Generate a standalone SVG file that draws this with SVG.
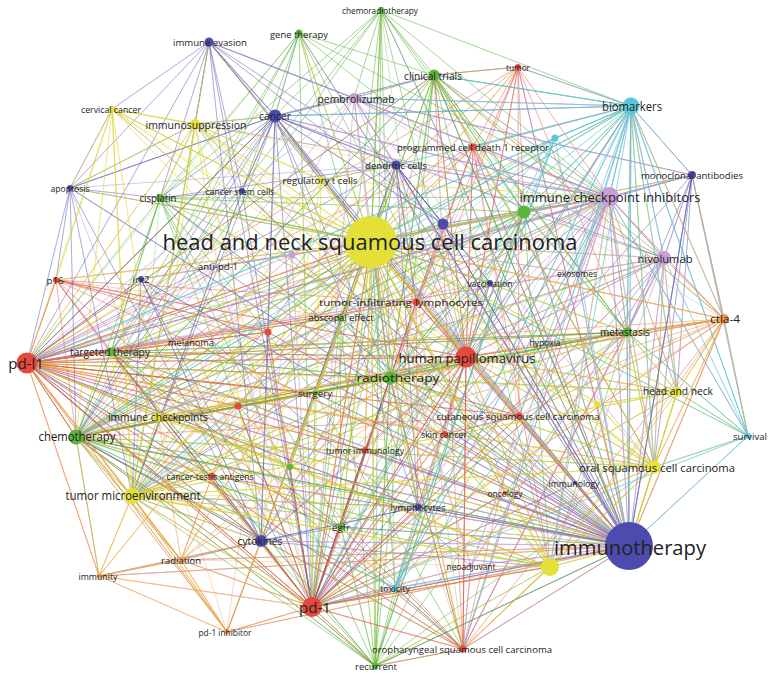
<svg xmlns="http://www.w3.org/2000/svg" width="768" height="674" viewBox="0 0 768 674">
<style>
.c path{fill:none;stroke-linecap:round;stroke-linejoin:round;stroke-width:1}
.gr{stroke:#5bb53b;stroke-opacity:.3}
.rd{stroke:#e8553f;stroke-opacity:.26}
.pu{stroke:#8a6ccb;stroke-opacity:.24}
.bl{stroke:#5a56b8;stroke-opacity:.28}
.ye{stroke:#dcd62c;stroke-opacity:.34}
.li{stroke:#c49ad8;stroke-opacity:.36}
.cy{stroke:#5cc3d3;stroke-opacity:.38}
.or{stroke:#f2a050;stroke-opacity:.36}
.c path.t{stroke-opacity:.5}
.l{font-family:"Open Sans","Liberation Sans",sans-serif;fill:#222;text-anchor:middle;dominant-baseline:central}
.nr{fill:#e5483c}.ng{fill:#5bb53b}.nb{fill:#4b4cad}.ny{fill:#e3e03a}.nl{fill:#c79ed8}.nc{fill:#5dc6d6}.no{fill:#f09a48}
</style>
<rect width="768" height="674" fill="#ffffff"/>
<g id="connectors" class="c">
<path class="gr" d="M381 10L371 242 381 10 629 546 381 10 466 357 381 10 609 197 381 10 434 75 381 10 524 212 381 10 390 378 381 10 76 437 381 10 312 607 381 10 27 363 381 10 111 352 381 10 160 198 381 10 631 106 381 10 354 98 381 10 627 332 381 10 375 666 381 10 463 649"/>
<path class="gr" d="M299 33L371 242 299 33 629 546 299 33 275 116 299 33 160 198 299 33 609 197 299 33 390 378 299 33 76 437 299 33 111 352 299 33 524 212 299 33 434 75 299 33 312 607 299 33 466 357 299 33 132 496 299 33 27 363"/>
<path class="gr" d="M434 75L371 242 434 75 629 546 434 75 609 197 434 75 631 106 434 75 312 607 434 75 27 363 434 75 390 378 434 75 76 437 434 75 664 258 434 75 354 98 434 75 627 332 434 75 524 212 434 75 466 357 434 75 518 67 434 75 654 467 434 75 375 666 434 75 550 567 434 75 724 319 434 75 132 496 434 75 275 116"/>
<path class="gr" d="M160 198L371 242 160 198 629 546 160 198 390 378 160 198 76 437 160 198 111 352 160 198 312 607 160 198 466 357 160 198 609 197 160 198 315 393 160 198 524 212 160 198 341 527 160 198 195 124 160 198 375 666 160 198 27 363 160 198 132 496"/>
<path class="gr" d="M76 437L371 242 76 437 629 546 76 437 390 378 76 437 312 607 76 437 466 357 76 437 609 197 76 437 111 352 76 437 158 417 76 437 132 496 76 437 341 527 76 437 375 666 76 437 463 649 76 437 261 541 76 437 627 332 76 437 524 212 76 437 315 393 76 437 664 258 76 437 395 588 76 437 418 507 76 437 290 467 76 437 654 467 76 437 550 567 76 437 434 75 76 437 631 106 76 437 27 363 76 437 181 560 76 437 99 576 76 437 227 632"/>
<path class="gr" d="M111 352L371 242 111 352 629 546 111 352 390 378 111 352 312 607 111 352 466 357 111 352 76 437 111 352 341 527 111 352 609 197 111 352 627 332 111 352 290 467 111 352 160 198 111 352 27 363 111 352 375 666 111 352 463 649"/>
<path class="gr" d="M390 378L371 242 390 378 629 546 390 378 466 357 390 378 312 607 390 378 27 363 390 378 609 197 390 378 627 332 390 378 315 393 390 378 341 527 390 378 375 666 390 378 340 317 390 378 463 649 390 378 132 496 390 378 724 319 390 378 677 392 390 378 550 567 390 378 654 467 390 378 519 416 390 378 76 437 390 378 111 352 390 378 434 75 390 378 631 106 390 378 664 258 390 378 418 507 390 378 395 588"/>
<path class="gr" d="M340 317L371 242 340 317 629 546 340 317 390 378 340 317 312 607 340 317 375 666 340 317 290 467 340 317 341 527 340 317 27 363 340 317 76 437"/>
<path class="gr" d="M341 527L371 242 341 527 629 546 341 527 466 357 341 527 312 607 341 527 375 666 341 527 524 212 341 527 463 649 341 527 627 332 341 527 76 437 341 527 111 352 341 527 390 378 341 527 550 567 341 527 27 363"/>
<path class="gr" d="M375 666L371 242 375 666 629 546 375 666 466 357 375 666 312 607 375 666 27 363 375 666 627 332 375 666 463 649 375 666 550 567 375 666 654 467 375 666 524 212 375 666 395 588 375 666 132 496 375 666 261 541 375 666 76 437 375 666 390 378 375 666 111 352 375 666 609 197 375 666 341 527"/>
<path class="gr" d="M627 332L371 242 627 332 629 546 627 332 466 357 627 332 27 363 627 332 609 197 627 332 664 258 627 332 724 319 627 332 677 392 627 332 631 106 627 332 524 212 627 332 654 467 627 332 550 567 627 332 748 436 627 332 132 496 627 332 76 437 627 332 312 607 627 332 390 378 627 332 545 342 627 332 434 75 627 332 111 352 627 332 158 417 627 332 519 416"/>
<path class="gr" d="M524 212L371 242 524 212 629 546 524 212 466 357 524 212 609 197 524 212 312 607 524 212 27 363 524 212 631 106 524 212 664 258 524 212 76 437 524 212 132 496 524 212 158 417 524 212 627 332 524 212 390 378 524 212 550 567 524 212 434 75 524 212 375 666 524 212 111 352"/>
<path class="gr" d="M290 467L371 242 290 467 629 546 290 467 312 607 290 467 466 357 290 467 27 363 290 467 76 437"/>
<path class="gr" d="M315 393L371 242 315 393 629 546 315 393 466 357 315 393 312 607 315 393 27 363 315 393 390 378 315 393 463 649 315 393 76 437"/>
<path class="rd" d="M27 363L371 242 27 363 629 546 27 363 312 607 27 363 466 357 27 363 56 280 27 363 111 352 27 363 76 437 27 363 158 417 27 363 132 496 27 363 390 378 27 363 609 197 27 363 212 476 27 363 268 332 27 363 238 406 27 363 416 302 27 363 261 541 27 363 181 560 27 363 227 632 27 363 99 576 27 363 664 258 27 363 275 116 27 363 627 332 27 363 654 467 27 363 550 567 27 363 418 507 27 363 365 450 27 363 315 393 27 363 341 527 27 363 375 666 27 363 141 279 27 363 191 342 27 363 340 317 27 363 519 416 27 363 463 649 27 363 434 75 27 363 195 124"/>
<path class="rd" d="M56 280L371 242 56 280 466 357 56 280 27 363 56 280 312 607 56 280 629 546 56 280 390 378 56 280 76 437 56 280 268 332 56 280 463 649 56 280 111 352 56 280 158 417 56 280 416 302 56 280 340 317"/>
<path class="rd" d="M312 607L371 242 312 607 629 546 312 607 466 357 312 607 27 363 312 607 261 541 312 607 341 527 312 607 395 588 312 607 463 649 312 607 375 666 312 607 550 567 312 607 181 560 312 607 227 632 312 607 132 496 312 607 158 417 312 607 212 476 312 607 418 507 312 607 471 566 312 607 365 450 312 607 609 197 312 607 664 258 312 607 724 319 312 607 627 332 312 607 654 467 312 607 290 467 312 607 445 434 312 607 519 416 312 607 238 406 312 607 268 332 312 607 76 437 312 607 390 378 312 607 111 352 312 607 631 106 312 607 677 392 312 607 575 483 312 607 505 493 312 607 99 576"/>
<path class="rd" d="M466 357L371 242 466 357 629 546 466 357 312 607 466 357 27 363 466 357 416 302 466 357 463 649 466 357 519 416 466 357 445 434 466 357 390 378 466 357 627 332 466 357 365 450 466 357 609 197 466 357 664 258 466 357 724 319 466 357 677 392 466 357 654 467 466 357 550 567 466 357 395 588 466 357 418 507 466 357 631 106 466 357 473 147 466 357 518 67 466 357 443 224 466 357 76 437 466 357 111 352 466 357 56 280 466 357 132 496 466 357 158 417 466 357 434 75 466 357 524 212 466 357 490 283 466 357 545 342"/>
<path class="rd" d="M518 67L371 242 518 67 629 546 518 67 473 147 518 67 466 357 518 67 312 607 518 67 27 363 518 67 434 75 518 67 631 106 518 67 609 197 518 67 519 416 518 67 416 302 518 67 524 212 518 67 627 332 518 67 76 437 518 67 390 378"/>
<path class="rd" d="M473 147L371 242 473 147 629 546 473 147 466 357 473 147 312 607 473 147 27 363 473 147 609 197 473 147 416 302 473 147 76 437 473 147 390 378 473 147 132 496 473 147 434 75 473 147 631 106 473 147 654 467 473 147 550 567 473 147 519 416"/>
<path class="rd" d="M416 302L371 242 416 302 629 546 416 302 312 607 416 302 27 363 416 302 466 357 416 302 365 450 416 302 418 507 416 302 261 541 416 302 396 165 416 302 609 197 416 302 76 437"/>
<path class="rd" d="M519 416L371 242 519 416 629 546 519 416 312 607 519 416 27 363 519 416 445 434 519 416 463 649 519 416 76 437 519 416 390 378 519 416 609 197 519 416 724 319"/>
<path class="rd" d="M445 434L371 242 445 434 629 546 445 434 312 607 445 434 27 363 445 434 519 416 445 434 390 378"/>
<path class="rd" d="M463 649L371 242 463 649 629 546 463 649 466 357 463 649 312 607 463 649 27 363 463 649 375 666 463 649 550 567 463 649 471 566 463 649 395 588 463 649 654 467 463 649 390 378 463 649 76 437 463 649 434 75 463 649 724 319 463 649 627 332 463 649 341 527 463 649 111 352 463 649 609 197 463 649 664 258 463 649 418 507"/>
<path class="rd" d="M365 450L371 242 365 450 629 546 365 450 312 607 365 450 27 363 365 450 261 541 365 450 390 378"/>
<path class="rd" d="M212 476L371 242 212 476 629 546 212 476 312 607 212 476 132 496 212 476 181 560 212 476 238 406 212 476 27 363 212 476 76 437"/>
<path class="rd" d="M238 406L371 242 238 406 629 546 238 406 312 607 238 406 27 363 238 406 76 437 238 406 390 378 238 406 463 649 238 406 132 496"/>
<path class="rd" d="M268 332L371 242 268 332 629 546 268 332 312 607 268 332 27 363 268 332 111 352 268 332 76 437 268 332 56 280 268 332 227 632"/>
<path class="pu" d="M629 546L371 242 629 546 466 357 629 546 609 197 629 546 631 106 629 546 664 258 629 546 692 175 629 546 654 467 629 546 677 392 629 546 597 404 629 546 627 332 629 546 724 319 629 546 748 436 629 546 519 416 629 546 445 434 629 546 416 302 629 546 490 283 629 546 418 507 629 546 575 483 629 546 505 493 629 546 471 566 629 546 395 588 629 546 463 649 629 546 375 666 629 546 341 527 629 546 312 607 629 546 261 541 629 546 132 496 629 546 158 417 629 546 76 437 629 546 111 352 629 546 27 363 629 546 390 378 629 546 524 212 629 546 443 224 629 546 396 165 629 546 354 98 629 546 275 116 629 546 209 42 629 546 160 198 629 546 434 75 629 546 518 67 629 546 473 147 629 546 340 317 629 546 112 109 629 546 195 124 629 546 321 180 629 546 70 188 629 546 141 279 629 546 292 255 629 546 217 266 629 546 212 476 629 546 238 406 629 546 268 332 629 546 365 450 629 546 290 467 629 546 315 393 629 546 181 560 629 546 227 632 629 546 99 576 629 546 191 342 629 546 242 191 629 546 299 33 629 546 381 10 629 546 577 273 629 546 545 342 629 546 550 567"/>
<path class="bl" d="M275 116L371 242 275 116 209 42 275 116 466 357 275 116 312 607 275 116 27 363 275 116 609 197 275 116 242 191 275 116 396 165 275 116 443 224 275 116 321 180 275 116 195 124 275 116 261 541 275 116 76 437 275 116 111 352 275 116 160 198 275 116 70 188 275 116 354 98 275 116 418 507 275 116 132 496 275 116 390 378 275 116 631 106 275 116 664 258 275 116 434 75 275 116 299 33"/>
<path class="bl" d="M209 42L371 242 209 42 195 124 209 42 396 165 209 42 312 607 209 42 27 363 209 42 132 496 209 42 261 541 209 42 70 188 209 42 112 109 209 42 443 224 209 42 609 197 209 42 242 191 209 42 321 180 209 42 160 198 209 42 354 98 209 42 629 546"/>
<path class="bl" d="M396 165L371 242 396 165 629 546 396 165 275 116 396 165 261 541 396 165 418 507 396 165 490 283 396 165 443 224 396 165 416 302 396 165 609 197 396 165 27 363 396 165 312 607 396 165 321 180 396 165 160 198 396 165 132 496 396 165 466 357 396 165 70 188"/>
<path class="bl" d="M692 175L629 546 692 175 609 197 692 175 631 106 692 175 664 258 692 175 371 242 692 175 724 319 692 175 312 607 692 175 27 363 692 175 627 332 692 175 677 392 692 175 654 467 692 175 354 98 692 175 748 436"/>
<path class="bl" d="M443 224L371 242 443 224 629 546 443 224 609 197 443 224 312 607 443 224 261 541 443 224 132 496 443 224 396 165 443 224 27 363 443 224 275 116"/>
<path class="bl" d="M261 541L371 242 261 541 312 607 261 541 27 363 261 541 132 496 261 541 275 116 261 541 418 507 261 541 181 560 261 541 99 576 261 541 396 165 261 541 466 357 261 541 76 437 261 541 111 352 261 541 158 417 261 541 341 527 261 541 227 632 261 541 212 476 261 541 550 567 261 541 141 279"/>
<path class="bl" d="M70 188L371 242 70 188 629 546 70 188 275 116 70 188 160 198 70 188 27 363 70 188 132 496 70 188 195 124 70 188 76 437 70 188 261 541 70 188 56 280 70 188 112 109 70 188 158 417"/>
<path class="bl" d="M141 279L371 242 141 279 629 546 141 279 261 541 141 279 471 566 141 279 27 363 141 279 132 496 141 279 312 607 141 279 275 116"/>
<path class="bl" d="M242 191L371 242 242 191 629 546 242 191 275 116 242 191 312 607 242 191 76 437 242 191 160 198 242 191 132 496 242 191 195 124"/>
<path class="bl" d="M418 507L371 242 418 507 629 546 418 507 261 541 418 507 312 607 418 507 132 496 418 507 27 363 418 507 466 357"/>
<path class="bl" d="M490 283L371 242 490 283 629 546 490 283 312 607 490 283 396 165 490 283 466 357 490 283 132 496 490 283 27 363"/>
<path class="bl" d="M575 483L629 546 575 483 371 242 575 483 312 607M505 493L629 546 505 493 371 242 505 493 312 607 505 493 466 357"/>
<path class="ye" d="M371 242L466 357 371 242 609 197 371 242 631 106 371 242 434 75 371 242 473 147 371 242 396 165 371 242 354 98 371 242 275 116 371 242 209 42 371 242 195 124 371 242 112 109 371 242 321 180 371 242 242 191 371 242 160 198 371 242 70 188 371 242 56 280 371 242 27 363 371 242 111 352 371 242 76 437 371 242 158 417 371 242 132 496 371 242 390 378 371 242 315 393 371 242 340 317 371 242 416 302 371 242 490 283 371 242 577 273 371 242 664 258 371 242 627 332 371 242 724 319 371 242 677 392 371 242 654 467 371 242 597 404 371 242 550 567 371 242 748 436 371 242 519 416 371 242 445 434 371 242 365 450 371 242 418 507 371 242 341 527 371 242 261 541 371 242 312 607 371 242 375 666 371 242 463 649 371 242 395 588 371 242 471 566 371 242 505 493 371 242 575 483 371 242 692 175 371 242 299 33 371 242 381 10 371 242 518 67 371 242 141 279 371 242 191 342 371 242 238 406 371 242 268 332 371 242 524 212 371 242 443 224 371 242 290 467 371 242 181 560 371 242 227 632 371 242 99 576 371 242 212 476 371 242 545 342 371 242 555 138 371 242 217 266 371 242 292 255"/>
<path class="ye" d="M132 496L371 242 132 496 312 607 132 496 27 363 132 496 76 437 132 496 158 417 132 496 261 541 132 496 181 560 132 496 99 576 132 496 195 124 132 496 390 378 132 496 550 567 132 496 654 467 132 496 677 392 132 496 212 476 132 496 111 352 132 496 609 197 132 496 466 357 132 496 627 332 132 496 112 109 132 496 227 632 132 496 418 507 132 496 341 527 132 496 505 493"/>
<path class="ye" d="M158 417L371 242 158 417 629 546 158 417 312 607 158 417 27 363 158 417 76 437 158 417 111 352 158 417 132 496 158 417 390 378 158 417 609 197 158 417 654 467 158 417 550 567 158 417 466 357 158 417 664 258 158 417 315 393 158 417 261 541"/>
<path class="ye" d="M195 124L629 546 195 124 275 116 195 124 209 42 195 124 112 109 195 124 132 496 195 124 27 363 195 124 312 607 195 124 321 180 195 124 158 417 195 124 550 567 195 124 654 467 195 124 160 198 195 124 70 188 195 124 466 357 195 124 609 197 195 124 261 541 195 124 396 165"/>
<path class="ye" d="M112 109L371 242 112 109 629 546 112 109 195 124 112 109 466 357 112 109 27 363 112 109 70 188 112 109 132 496 112 109 550 567 112 109 158 417 112 109 76 437 112 109 56 280 112 109 654 467"/>
<path class="ye" d="M321 180L629 546 321 180 275 116 321 180 195 124 321 180 396 165 321 180 132 496 321 180 312 607 321 180 609 197 321 180 550 567 321 180 27 363 321 180 261 541 321 180 466 357"/>
<path class="ye" d="M654 467L371 242 654 467 629 546 654 467 677 392 654 467 597 404 654 467 312 607 654 467 27 363 654 467 609 197 654 467 631 106 654 467 664 258 654 467 627 332 654 467 724 319 654 467 748 436 654 467 550 567 654 467 390 378 654 467 76 437 654 467 132 496 654 467 466 357 654 467 434 75 654 467 463 649"/>
<path class="ye" d="M677 392L371 242 677 392 629 546 677 392 724 319 677 392 654 467 677 392 627 332 677 392 664 258 677 392 748 436 677 392 597 404 677 392 312 607 677 392 609 197 677 392 466 357 677 392 27 363 677 392 132 496 677 392 631 106 677 392 550 567"/>
<path class="ye" d="M550 567L371 242 550 567 629 546 550 567 312 607 550 567 27 363 550 567 132 496 550 567 158 417 550 567 466 357 550 567 654 467 550 567 677 392 550 567 76 437 550 567 390 378 550 567 471 566 550 567 609 197 550 567 463 649 550 567 375 666"/>
<path class="ye" d="M597 404L371 242 597 404 629 546 597 404 677 392 597 404 654 467 597 404 466 357 597 404 312 607 597 404 609 197"/>
<path class="li" d="M609 197L371 242 609 197 664 258 609 197 354 98 609 197 631 106 609 197 692 175 609 197 312 607 609 197 27 363 609 197 466 357 609 197 724 319 609 197 627 332 609 197 654 467 609 197 677 392 609 197 76 437 609 197 390 378 609 197 434 75 609 197 132 496 609 197 550 567 609 197 471 566 609 197 577 273 609 197 748 436 609 197 395 588 609 197 261 541 609 197 418 507 609 197 524 212 609 197 275 116 609 197 158 417 609 197 111 352 609 197 195 124 609 197 396 165 609 197 463 649 609 197 519 416"/>
<path class="li" d="M664 258L371 242 664 258 609 197 664 258 354 98 664 258 312 607 664 258 27 363 664 258 724 319 664 258 692 175 664 258 631 106 664 258 654 467 664 258 677 392 664 258 627 332 664 258 550 567 664 258 471 566 664 258 466 357 664 258 76 437 664 258 390 378 664 258 463 649 664 258 395 588"/>
<path class="li" d="M354 98L629 546 354 98 609 197 354 98 664 258 354 98 312 607 354 98 27 363 354 98 466 357 354 98 434 75 354 98 631 106 354 98 275 116 354 98 209 42 354 98 132 496 354 98 654 467 354 98 76 437 354 98 390 378 354 98 396 165 354 98 692 175 354 98 724 319"/>
<path class="li" d="M292 255L371 242 292 255 629 546 292 255 27 363 292 255 312 607 292 255 217 266 292 255 261 541M217 266L371 242 217 266 629 546 217 266 27 363 217 266 312 607 217 266 111 352 217 266 141 279"/>
<path class="li" d="M471 566L629 546 471 566 371 242 471 566 312 607 471 566 463 649 471 566 664 258 471 566 609 197M577 273L629 546 577 273 371 242 577 273 609 197 577 273 631 106"/>
<path class="cy" d="M631 106L371 242 631 106 609 197 631 106 434 75 631 106 312 607 631 106 27 363 631 106 555 138 631 106 466 357 631 106 664 258 631 106 692 175 631 106 627 332 631 106 654 467 631 106 748 436 631 106 677 392 631 106 724 319 631 106 395 588 631 106 76 437 631 106 390 378 631 106 518 67 631 106 473 147 631 106 396 165 631 106 354 98 631 106 132 496 631 106 550 567 631 106 577 273 631 106 275 116 631 106 524 212 631 106 463 649 631 106 519 416 631 106 418 507"/>
<path class="cy" d="M555 138L629 546 555 138 631 106 555 138 609 197 555 138 312 607 555 138 416 302 555 138 466 357 555 138 395 588 555 138 27 363 555 138 76 437 555 138 132 496"/>
<path class="cy" d="M748 436L629 546 748 436 371 242 748 436 631 106 748 436 654 467 748 436 677 392 748 436 724 319 748 436 664 258 748 436 627 332 748 436 609 197 748 436 312 607 748 436 692 175"/>
<path class="cy" d="M395 588L629 546 395 588 371 242 395 588 312 607 395 588 27 363 395 588 76 437 395 588 631 106 395 588 664 258 395 588 463 649 395 588 418 507 395 588 609 197 395 588 555 138 395 588 550 567"/>
<path class="or" d="M724 319L371 242 724 319 629 546 724 319 609 197 724 319 664 258 724 319 27 363 724 319 466 357 724 319 627 332 724 319 677 392 724 319 654 467 724 319 631 106 724 319 748 436 724 319 434 75 724 319 390 378 724 319 76 437 724 319 132 496 724 319 550 567 724 319 692 175 724 319 519 416 724 319 445 434 724 319 597 404"/>
<path class="or" d="M181 560L629 546 181 560 371 242 181 560 312 607 181 560 27 363 181 560 132 496 181 560 261 541 181 560 99 576 181 560 227 632 181 560 76 437 181 560 212 476 181 560 390 378 181 560 158 417 181 560 466 357 181 560 550 567"/>
<path class="or" d="M99 576L629 546 99 576 371 242 99 576 312 607 99 576 27 363 99 576 132 496 99 576 181 560 99 576 261 541 99 576 76 437 99 576 227 632"/>
<path class="or" d="M227 632L629 546 227 632 371 242 227 632 312 607 227 632 27 363 227 632 132 496 227 632 181 560 227 632 261 541 227 632 99 576 227 632 76 437 227 632 158 417"/>
<path class="or" d="M191 342L371 242 191 342 629 546 191 342 312 607 191 342 27 363 191 342 158 417"/>
<path class="gr t" stroke-width="3" d="M76 437L390 378"/>
<path class="gr t" stroke-width="3.5" d="M371 242L524 212"/>
<path class="gr t" stroke-width="2.5" d="M76 437L371 242"/>
<path class="gr t" stroke-width="2.5" d="M434 75L371 242"/>
<path class="gr t" stroke-width="2" d="M434 75L629 546"/>
<path class="gr t" stroke-width="2" d="M76 437L629 546"/>
<path class="gr t" stroke-width="2" d="M390 378L629 546"/>
<path class="gr t" stroke-width="2" d="M390 378L371 242"/>
<path class="gr t" stroke-width="2" d="M160 198L371 242"/>
<path class="gr t" stroke-width="2" d="M390 378L524 212"/>
<path class="gr t" stroke-width="1.5" d="M375 666L629 546"/>
<path class="gr t" stroke-width="1.5" d="M381 10L371 242"/>
<path class="gr t" stroke-width="2" d="M524 212L609 197"/>
<path class="rd t" stroke-width="4" stroke="#ef7a3c" d="M466 357L371 242"/>
<path class="rd t" stroke-width="3" stroke="#ef8a50" d="M312 607L371 242"/>
<path class="rd t" stroke-width="3" d="M312 607L629 546"/>
<path class="rd t" stroke-width="2.5" d="M27 363L371 242"/>
<path class="rd t" stroke-width="2" d="M27 363L76 437"/>
<path class="rd t" stroke-width="2" d="M27 363L111 352"/>
<path class="rd t" stroke-width="2" d="M312 607L466 357"/>
<path class="rd t" stroke-width="3" stroke="#ef7a3c" d="M466 357L629 546"/>
<path class="rd t" stroke-width="2" d="M27 363L312 607"/>
<path class="rd t" stroke-width="2" d="M312 607L550 567"/>
<path class="rd t" stroke-width="1.5" d="M466 357L463 649"/>
<path class="pu t" stroke-width="4.5" stroke="#7a62c6" d="M275 116L629 546"/>
<path class="bl t" stroke-width="3" d="M209 42L275 116"/>
<path class="bl t" stroke-width="2.5" d="M275 116L371 242"/>
<path class="li t" stroke-width="3" d="M261 541L629 546"/>
<path class="bl t" stroke-width="2" d="M396 165L629 546"/>
<path class="bl t" stroke-width="2.5" d="M443 224L629 546"/>
<path class="bl t" stroke-width="2" d="M692 175L629 546"/>
<path class="pu t" stroke-width="2" d="M418 507L629 546"/>
<path class="ye t" stroke-width="3" d="M371 242L629 546"/>
<path class="ye t" stroke-width="2.5" d="M132 496L629 546"/>
<path class="ye t" stroke-width="2.5" d="M132 496L550 567"/>
<path class="ye t" stroke-width="3" d="M321 180L371 242"/>
<path class="ye t" stroke-width="2.5" d="M195 124L371 242"/>
<path class="ye t" stroke-width="2" d="M112 109L195 124"/>
<path class="ye t" stroke-width="1.5" d="M112 109L371 242"/>
<path class="ye t" stroke-width="2" d="M158 417L371 242"/>
<path class="ye t" stroke-width="2" d="M158 417L629 546"/>
<path class="ye t" stroke-width="3.5" d="M371 242L609 197"/>
<path class="ye t" stroke-width="2" d="M371 242L654 467"/>
<path class="ye t" stroke-width="2.5" d="M371 242L550 567"/>
<path class="ye t" stroke-width="3" d="M550 567L629 546"/>
<path class="ye t" stroke-width="2.5" d="M654 467L629 546"/>
<path class="ye t" stroke-width="2" d="M677 392L629 546"/>
<path class="ye t" stroke-width="2" d="M132 496L371 242"/>
<path class="li t" stroke-width="4" stroke="#d898c8" d="M27 363L629 546"/>
<path class="li t" stroke-width="4" d="M664 258L629 546"/>
<path class="li t" stroke-width="3" d="M609 197L629 546"/>
<path class="li t" stroke-width="2" d="M354 98L629 546"/>
<path class="li t" stroke-width="2.5" d="M609 197L371 242"/>
<path class="li t" stroke-width="2" d="M354 98L371 242"/>
<path class="li t" stroke-width="2" d="M609 197L664 258"/>
<path class="li t" stroke-width="1.5" d="M609 197L354 98"/>
<path class="li t" stroke-width="1.5" d="M692 175L609 197"/>
<path class="cy t" stroke-width="4" d="M631 106L629 546"/>
<path class="cy t" stroke-width="3" d="M631 106L371 242"/>
<path class="cy t" stroke-width="2.5" d="M555 138L371 242"/>
<path class="cy t" stroke-width="2" d="M631 106L609 197"/>
<path class="cy t" stroke-width="1.5" d="M631 106L434 75"/>
<path class="or t" stroke-width="2" d="M724 319L312 607"/>
<path class="or t" stroke-width="1.5" d="M724 319L629 546"/>
<path class="or t" stroke-width="1.5" d="M724 319L371 242"/>
</g>
<g id="nodes">
<g id="n-hnscc"><circle class="ny" cx="371" cy="242" r="26"/><text class="l" x="370" y="242" font-size="21" textLength="415" lengthAdjust="spacingAndGlyphs">head and neck squamous cell carcinoma</text></g>
<g id="n-immunotherapy"><circle class="nb" cx="629" cy="546" r="24"/><text class="l" x="630" y="547" font-size="20" textLength="152" lengthAdjust="spacingAndGlyphs">immunotherapy</text></g>
<g id="n-hpv"><circle class="nr" cx="466" cy="357" r="10.5"/><text class="l" x="467" y="358" font-size="13" textLength="137" lengthAdjust="spacingAndGlyphs">human papillomavirus</text></g>
<g id="n-ici"><circle class="nl" cx="609" cy="197" r="10"/><text class="l" x="610" y="197" font-size="13" textLength="181" lengthAdjust="spacingAndGlyphs">immune checkpoint inhibitors</text></g>
<g id="n-pdl1"><circle class="nr" cx="27" cy="363" r="10.5"/><text class="l" x="26" y="363" font-size="15">pd-l1</text></g>
<g id="n-pd1"><circle class="nr" cx="312" cy="607" r="10"/><text class="l" x="315" y="607" font-size="15">pd-1</text></g>
<g id="n-biomarkers"><circle class="nc" cx="631" cy="106" r="8.5"/><text class="l" x="632" y="106" font-size="12" textLength="60" lengthAdjust="spacingAndGlyphs">biomarkers</text></g>
<g id="n-y3"><circle class="ny" cx="550" cy="567" r="9"/></g>
<g id="n-tme"><circle class="ny" cx="132" cy="496" r="8"/><text class="l" x="133" y="495" font-size="13" textLength="135" lengthAdjust="spacingAndGlyphs">tumor microenvironment</text></g>
<g id="n-chemotherapy"><circle class="ng" cx="76" cy="437" r="7.5"/><text class="l" x="77" y="436" font-size="12" textLength="77" lengthAdjust="spacingAndGlyphs">chemotherapy</text></g>
<g id="n-nivolumab"><circle class="nl" cx="664" cy="258" r="7"/><text class="l" x="665" y="258" font-size="11" textLength="55" lengthAdjust="spacingAndGlyphs">nivolumab</text></g>
<g id="n-radiotherapy"><circle class="ng" cx="390" cy="378" r="6.5"/><text class="l" x="398" y="377" font-size="11.5" textLength="83" lengthAdjust="spacingAndGlyphs">radiotherapy</text></g>
<g id="n-cancer"><circle class="nb" cx="275" cy="116" r="6.5"/><text class="l" x="275" y="116" font-size="10.5" textLength="32" lengthAdjust="spacingAndGlyphs">cancer</text></g>
<g id="n-oscc"><circle class="ny" cx="654" cy="467" r="6.5"/><text class="l" x="657" y="467" font-size="11" textLength="156" lengthAdjust="spacingAndGlyphs">oral squamous cell carcinoma</text></g>
<g id="n-g1"><circle class="ng" cx="524" cy="212" r="6.5"/></g>
<g id="n-cytokines"><circle class="nb" cx="261" cy="541" r="6"/><text class="l" x="260" y="541" font-size="10.5" textLength="45" lengthAdjust="spacingAndGlyphs">cytokines</text></g>
<g id="n-clinical-trials"><circle class="ng" cx="434" cy="75" r="5.5"/><text class="l" x="433" y="75" font-size="11" textLength="58" lengthAdjust="spacingAndGlyphs">clinical trials</text></g>
<g id="n-b1"><circle class="nb" cx="443" cy="224" r="5.5"/></g>
<g id="n-head-and-neck"><circle class="ny" cx="677" cy="392" r="5"/><text class="l" x="678" y="391" font-size="10.5" textLength="70" lengthAdjust="spacingAndGlyphs">head and neck</text></g>
<g id="n-ctla4"><circle class="no" cx="724" cy="319" r="5"/><text class="l" x="725" y="319" font-size="10" textLength="30" lengthAdjust="spacingAndGlyphs">ctla-4</text></g>
<g id="n-immunosuppression"><circle class="ny" cx="195" cy="124" r="5"/><text class="l" x="196" y="124" font-size="11" textLength="101" lengthAdjust="spacingAndGlyphs">immunosuppression</text></g>
<g id="n-pembrolizumab"><circle class="nl" cx="354" cy="98" r="5"/><text class="l" x="356" y="98" font-size="11" textLength="77" lengthAdjust="spacingAndGlyphs">pembrolizumab</text></g>
<g id="n-immune-evasion"><circle class="nb" cx="209" cy="42" r="4.5"/><text class="l" x="210" y="42" font-size="9.5" textLength="74" lengthAdjust="spacingAndGlyphs">immune evasion</text></g>
<g id="n-metastasis"><circle class="ng" cx="627" cy="332" r="4.5"/><text class="l" x="625" y="332" font-size="10" textLength="50" lengthAdjust="spacingAndGlyphs">metastasis</text></g>
<g id="n-targeted-therapy"><circle class="ng" cx="111" cy="352" r="4.5"/><text class="l" x="110" y="352" font-size="10" textLength="80" lengthAdjust="spacingAndGlyphs">targeted therapy</text></g>
<g id="n-immune-checkpoints"><circle class="ny" cx="158" cy="417" r="4.5"/><text class="l" x="158" y="417" font-size="10.5" textLength="100" lengthAdjust="spacingAndGlyphs">immune checkpoints</text></g>
<g id="n-dendritic-cells"><circle class="nb" cx="396" cy="165" r="4.5"/><text class="l" x="396" y="165" font-size="9" textLength="62" lengthAdjust="spacingAndGlyphs">dendritic cells</text></g>
<g id="n-monoclonal-antibodies"><circle class="nb" cx="692" cy="175" r="4"/><text class="l" x="692" y="175" font-size="9" textLength="102" lengthAdjust="spacingAndGlyphs">monoclonal antibodies</text></g>
<g id="n-cisplatin"><circle class="ng" cx="160" cy="198" r="4"/><text class="l" x="158" y="198" font-size="10" textLength="37" lengthAdjust="spacingAndGlyphs">cisplatin</text></g>
<g id="n-gene-therapy"><circle class="ng" cx="299" cy="33" r="3.5"/><text class="l" x="299" y="34" font-size="9.5" textLength="58" lengthAdjust="spacingAndGlyphs">gene therapy</text></g>
<g id="n-chemoradiotherapy"><circle class="ng" cx="381" cy="10" r="3"/><text class="l" x="380" y="10" font-size="8.5" textLength="76" lengthAdjust="spacingAndGlyphs">chemoradiotherapy</text></g>
<g id="n-tumor"><circle class="nr" cx="518" cy="67" r="3"/><text class="l" x="518" y="67" font-size="9" textLength="24" lengthAdjust="spacingAndGlyphs">tumor</text></g>
<g id="n-pd1r"><circle class="nr" cx="473" cy="147" r="3.5"/><text class="l" x="473" y="147" font-size="9.5" textLength="152" lengthAdjust="spacingAndGlyphs">programmed cell death 1 receptor</text></g>
<g id="n-cy1"><circle class="nc" cx="555" cy="138" r="3.5"/></g>
<g id="n-exosomes"><circle class="nl" cx="577" cy="273" r="2"/><text class="l" x="577" y="273" font-size="8.5" textLength="40" lengthAdjust="spacingAndGlyphs">exosomes</text></g>
<g id="n-vaccination"><circle class="nb" cx="490" cy="283" r="3"/><text class="l" x="490" y="283" font-size="8.5" textLength="45" lengthAdjust="spacingAndGlyphs">vaccination</text></g>
<g id="n-til"><circle class="nr" cx="416" cy="302" r="3.5"/><text class="l" x="401" y="302" font-size="9" textLength="164" lengthAdjust="spacingAndGlyphs">tumor-infiltrating lymphocytes</text></g>
<g id="n-hypoxia"><circle class="nc" cx="545" cy="342" r="2"/><text class="l" x="545" y="342" font-size="8.5" textLength="31" lengthAdjust="spacingAndGlyphs">hypoxia</text></g>
<g id="n-y2"><circle class="ny" cx="597" cy="404" r="3"/></g>
<g id="n-survival"><circle class="nc" cx="748" cy="436" r="3"/><text class="l" x="750" y="436" font-size="9" textLength="34" lengthAdjust="spacingAndGlyphs">survival</text></g>
<g id="n-cscc"><circle class="nr" cx="519" cy="416" r="3.5"/><text class="l" x="518" y="416" font-size="9.5" textLength="163" lengthAdjust="spacingAndGlyphs">cutaneous squamous cell carcinoma</text></g>
<g id="n-skin-cancer"><circle class="nr" cx="445" cy="434" r="3"/><text class="l" x="444" y="434" font-size="8.5" textLength="46" lengthAdjust="spacingAndGlyphs">skin cancer</text></g>
<g id="n-surgery"><circle class="ng" cx="315" cy="393" r="2.5"/><text class="l" x="315" y="393" font-size="9" textLength="34" lengthAdjust="spacingAndGlyphs">surgery</text></g>
<g id="n-r1"><circle class="nr" cx="238" cy="406" r="3.5"/></g>
<g id="n-r2"><circle class="nr" cx="268" cy="332" r="3.5"/></g>
<g id="n-tumor-immunology"><circle class="nr" cx="365" cy="450" r="3"/><text class="l" x="365" y="450" font-size="8.5" textLength="78" lengthAdjust="spacingAndGlyphs">tumor immunology</text></g>
<g id="n-g2"><circle class="ng" cx="290" cy="467" r="3"/></g>
<g id="n-lymphocytes"><circle class="nb" cx="418" cy="507" r="3.5"/><text class="l" x="418" y="507" font-size="9" textLength="55" lengthAdjust="spacingAndGlyphs">lymphocytes</text></g>
<g id="n-oncology"><circle class="nr" cx="505" cy="493" r="2"/><text class="l" x="505" y="493" font-size="8.5" textLength="35" lengthAdjust="spacingAndGlyphs">oncology</text></g>
<g id="n-immunology"><circle class="nb" cx="575" cy="483" r="2"/><text class="l" x="574" y="483" font-size="8.5" textLength="51" lengthAdjust="spacingAndGlyphs">immunology</text></g>
<g id="n-neoadjuvant"><circle class="nl" cx="471" cy="566" r="2"/><text class="l" x="471" y="566" font-size="8.5" textLength="49" lengthAdjust="spacingAndGlyphs">neoadjuvant</text></g>
<g id="n-toxicity"><circle class="nc" cx="395" cy="588" r="3"/><text class="l" x="395" y="588" font-size="8.5" textLength="30" lengthAdjust="spacingAndGlyphs">toxicity</text></g>
<g id="n-opscc"><circle class="nr" cx="463" cy="649" r="3.5"/><text class="l" x="462" y="649" font-size="9.5" textLength="180" lengthAdjust="spacingAndGlyphs">oropharyngeal squamous cell carcinoma</text></g>
<g id="n-recurrent"><circle class="ng" cx="375" cy="666" r="3.5"/><text class="l" x="376" y="666" font-size="9.5" textLength="42" lengthAdjust="spacingAndGlyphs">recurrent</text></g>
<g id="n-egfr"><circle class="ng" cx="341" cy="527" r="3.5"/><text class="l" x="341" y="527" font-size="9" textLength="18" lengthAdjust="spacingAndGlyphs">egfr</text></g>
<g id="n-radiation"><circle class="no" cx="181" cy="560" r="3"/><text class="l" x="181" y="560" font-size="9.5" textLength="40" lengthAdjust="spacingAndGlyphs">radiation</text></g>
<g id="n-immunity"><circle class="no" cx="99" cy="576" r="2.5"/><text class="l" x="98" y="576" font-size="8.5" textLength="39" lengthAdjust="spacingAndGlyphs">immunity</text></g>
<g id="n-pd1-inhibitor"><circle class="no" cx="227" cy="632" r="2.5"/><text class="l" x="225" y="632" font-size="8.5" textLength="53" lengthAdjust="spacingAndGlyphs">pd-1 inhibitor</text></g>
<g id="n-cta"><circle class="nr" cx="212" cy="476" r="3"/><text class="l" x="210" y="476" font-size="8.5" textLength="87" lengthAdjust="spacingAndGlyphs">cancer-testis antigens</text></g>
<g id="n-melanoma"><circle class="no" cx="191" cy="342" r="2"/><text class="l" x="191" y="342" font-size="9" textLength="46" lengthAdjust="spacingAndGlyphs">melanoma</text></g>
<g id="n-p16"><circle class="nr" cx="56" cy="280" r="3"/><text class="l" x="55" y="280" font-size="9" textLength="17" lengthAdjust="spacingAndGlyphs">p16</text></g>
<g id="n-irx2"><circle class="nb" cx="141" cy="279" r="3"/><text class="l" x="141" y="279" font-size="8.5" textLength="17" lengthAdjust="spacingAndGlyphs">irx2</text></g>
<g id="n-anti-pd1"><circle class="nl" cx="217" cy="266" r="2"/><text class="l" x="218" y="266" font-size="8.5" textLength="40" lengthAdjust="spacingAndGlyphs">anti-pd-1</text></g>
<g id="n-p1"><circle class="nl" cx="292" cy="255" r="3.5"/></g>
<g id="n-abscopal"><circle class="ng" cx="340" cy="317" r="3"/><text class="l" x="341" y="317" font-size="9" textLength="65" lengthAdjust="spacingAndGlyphs">abscopal effect</text></g>
<g id="n-apoptosis"><circle class="nb" cx="70" cy="188" r="3"/><text class="l" x="70" y="188" font-size="8.5" textLength="39" lengthAdjust="spacingAndGlyphs">apoptosis</text></g>
<g id="n-cervical-cancer"><circle class="ny" cx="112" cy="109" r="3"/><text class="l" x="111" y="109" font-size="8.5" textLength="60" lengthAdjust="spacingAndGlyphs">cervical cancer</text></g>
<g id="n-csc"><circle class="nb" cx="242" cy="191" r="3"/><text class="l" x="240" y="191" font-size="8.5" textLength="69" lengthAdjust="spacingAndGlyphs">cancer stem cells</text></g>
<g id="n-treg"><circle class="ny" cx="321" cy="180" r="3.5"/><text class="l" x="320" y="180" font-size="9" textLength="75" lengthAdjust="spacingAndGlyphs">regulatory t cells</text></g>
</g>
</svg>
